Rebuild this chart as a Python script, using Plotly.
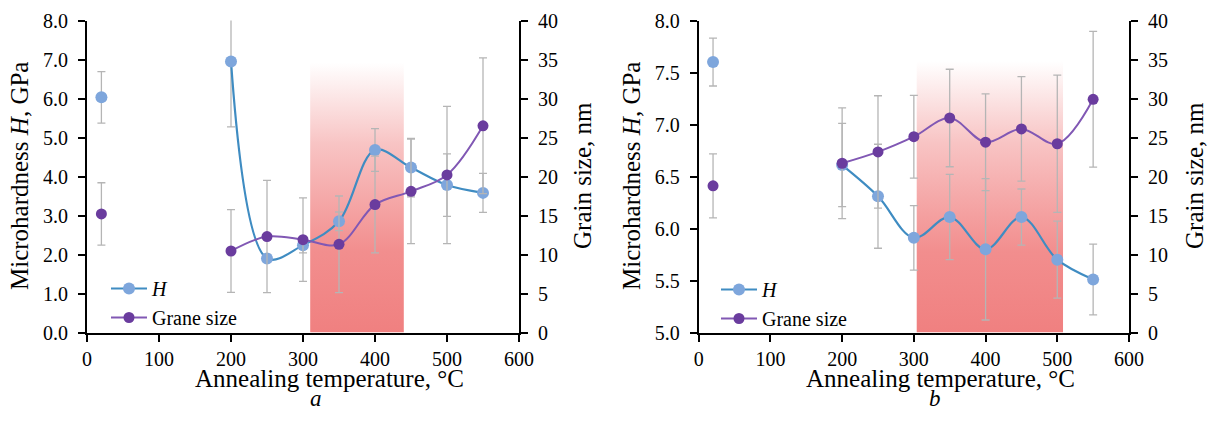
import plotly.graph_objects as go

# ---------------- data ----------------
temps = [20, 200, 250, 300, 350, 400, 450, 500, 550]

# panel a
H_a = [6.03, 6.95, 1.90, 2.24, 2.85, 4.68, 4.23, 3.78, 3.58]
H_a_err = [0.66, 1.68, 0.10, 0.20, 0.24, 0.55, 0.75, 0.80, 0.50]
G_a = [15.2, 10.45, 12.3, 11.9, 11.3, 16.4, 18.1, 20.2, 26.5]
G_a_err = [4.0, 5.3, 7.2, 5.35, 6.2, 6.2, 6.7, 8.8, 8.7]

# panel b
H_b = [7.60, 6.61, 6.31, 5.91, 6.11, 5.80, 6.11, 5.70, 5.51]
H_b_err = [0.23, 0.40, 0.50, 0.31, 0.41, 0.68, 0.27, 0.37, 0.34]
G_b = [18.8, 21.7, 23.15, 25.1, 27.5, 24.4, 26.1, 24.2, 29.9]
G_b_err = [4.1, 7.1, 7.2, 5.3, 6.25, 6.2, 6.7, 8.8, 8.7]

# shaded annealing windows (temperature span, top on H axis)
band_a = (310, 440)
band_a_top = 6.92
band_b = (304, 508)
band_b_top = 7.61

x_ticks = [0, 100, 200, 300, 400, 500, 600]
H_a_range = [0, 8]
H_b_range = [5, 8]
G_range = [0, 40]

# ---------------- style ----------------
W, HGT = 1209, 425
SERIF = "Liberation Serif"
H_MARK = "#7ea6dc"
H_LINE = "#3f8cc2"
G_MARK = "#6a3c9e"
G_LINE = "#8158b4"
ERR = "#b5b5b5"
BAND_SCALE = [[0.0, "rgb(240,128,128)"], [0.3, "rgb(242,142,142)"],
              [0.7, "rgb(248,196,196)"], [1.0, "rgb(255,255,255)"]]


def px(x):
    return x / W


def py(y):
    return 1 - y / HGT


fig = go.Figure()

panels = [
    dict(xa="x", ya="y", ya2="y2", leg="legend", H=H_a, He=H_a_err, G=G_a, Ge=G_a_err,
         band=band_a, btop=band_a_top, bbot=H_a_range[0]),
    dict(xa="x2", ya="y3", ya2="y4", leg="legend2", H=H_b, He=H_b_err, G=G_b, Ge=G_b_err,
         band=band_b, btop=band_b_top, bbot=H_b_range[0]),
]

for p in panels:
    x0, x1 = p["band"]
    fig.add_trace(go.Scatter(
        x=[x0, x1, x1, x0, x0], y=[p["bbot"], p["bbot"], p["btop"], p["btop"], p["bbot"]],
        xaxis=p["xa"], yaxis=p["ya"], mode="lines", fill="toself", line=dict(width=0),
        fillgradient=dict(type="vertical", colorscale=BAND_SCALE),
        showlegend=False, hoverinfo="skip"))
    # H: isolated first point + smoothed curve
    fig.add_trace(go.Scatter(
        x=temps[:1], y=p["H"][:1], xaxis=p["xa"], yaxis=p["ya"], mode="markers",
        marker=dict(color=H_MARK, size=12),
        error_y=dict(type="data", array=p["He"][:1], color=ERR, thickness=1.3, width=4),
        showlegend=False, legend=p["leg"]))
    fig.add_trace(go.Scatter(
        x=temps[1:], y=p["H"][1:], xaxis=p["xa"], yaxis=p["ya"], mode="lines+markers",
        name="<i>H</i>", line=dict(color=H_LINE, width=2.2, shape="spline", smoothing=1),
        marker=dict(color=H_MARK, size=12),
        error_y=dict(type="data", array=p["He"][1:], color=ERR, thickness=1.3, width=4),
        legend=p["leg"]))
    # grain size
    fig.add_trace(go.Scatter(
        x=temps[:1], y=p["G"][:1], xaxis=p["xa"], yaxis=p["ya2"], mode="markers",
        marker=dict(color=G_MARK, size=11),
        error_y=dict(type="data", array=p["Ge"][:1], color=ERR, thickness=1.3, width=4),
        showlegend=False, legend=p["leg"]))
    fig.add_trace(go.Scatter(
        x=temps[1:], y=p["G"][1:], xaxis=p["xa"], yaxis=p["ya2"], mode="lines+markers",
        name="Grane size", line=dict(color=G_LINE, width=2, shape="spline", smoothing=1),
        marker=dict(color=G_MARK, size=11),
        error_y=dict(type="data", array=p["Ge"][1:], color=ERR, thickness=1.3, width=4),
        legend=p["leg"]))

tickfont = dict(family=SERIF, size=20, color="black")
common = dict(showline=True, linecolor="black", linewidth=2, ticks="outside", ticklen=7,
              tickwidth=1.5, tickcolor="black", showgrid=False, zeroline=False,
              tickfont=tickfont, automargin=False)
xcommon = dict(common, ticklabelstandoff=0)
ycommon = dict(common, ticklabelstandoff=6)

dom_y = [py(332.5), py(20.5)]
dom_x1 = [px(87), px(519)]
dom_x2 = [px(698.7), px(1129)]

legend_style = dict(xanchor="left", yanchor="top", bgcolor="rgba(0,0,0,0)",
                    font=dict(family=SERIF, size=20, color="black"), tracegroupgap=0,
                    itemwidth=36)

fig.update_layout(
    width=W, height=HGT, margin=dict(l=0, r=0, t=0, b=0),
    paper_bgcolor="white", plot_bgcolor="rgba(0,0,0,0)",
    font=dict(family=SERIF, color="black"),
    xaxis=dict(domain=dom_x1, anchor="y", range=[0, 600], tickvals=x_ticks, **xcommon),
    yaxis=dict(domain=dom_y, anchor="x", range=H_a_range, dtick=1, tickformat=".1f", **ycommon),
    yaxis2=dict(overlaying="y", anchor="x", side="right", range=G_range, dtick=5, **ycommon),
    xaxis2=dict(domain=dom_x2, anchor="y3", range=[0, 600], tickvals=x_ticks, **xcommon),
    yaxis3=dict(domain=dom_y, anchor="x2", range=H_b_range, dtick=0.5, tickformat=".1f", **ycommon),
    yaxis4=dict(overlaying="y3", anchor="x2", side="right", range=G_range, dtick=5, **ycommon),
    legend=dict(x=px(106), y=py(269), **legend_style),
    legend2=dict(x=px(716), y=py(270), **legend_style),
    showlegend=True,
)

title_font = dict(family=SERIF, size=25, color="black")
annots = [
    dict(x=px(20), y=py(176), text="Microhardness <i>H</i>, GPa", textangle=-90),
    dict(x=px(583), y=py(176), text="Grain size, nm", textangle=-90),
    dict(x=px(329), y=py(378), text="Annealing temperature, °C"),
    dict(x=px(632), y=py(176), text="Microhardness <i>H</i>, GPa", textangle=-90),
    dict(x=px(1195), y=py(176), text="Grain size, nm", textangle=-90),
    dict(x=px(940), y=py(378), text="Annealing temperature, °C"),
]
for a in annots:
    fig.add_annotation(xref="paper", yref="paper", showarrow=False, xanchor="center",
                       yanchor="middle", font=title_font, **a)
for x, lab in [(308, "a"), (943, "b")]:
    fig.add_annotation(xref="paper", yref="paper", x=px(x), y=py(413), text=f"<i>{lab}</i>",
                       showarrow=False, font=dict(family=SERIF, size=23, color="black"))

fig.write_html("out.html", config={"displayModeBar": False},
               post_script="document.body.style.margin='0px';"
                           "document.body.style.overflow='hidden';")
